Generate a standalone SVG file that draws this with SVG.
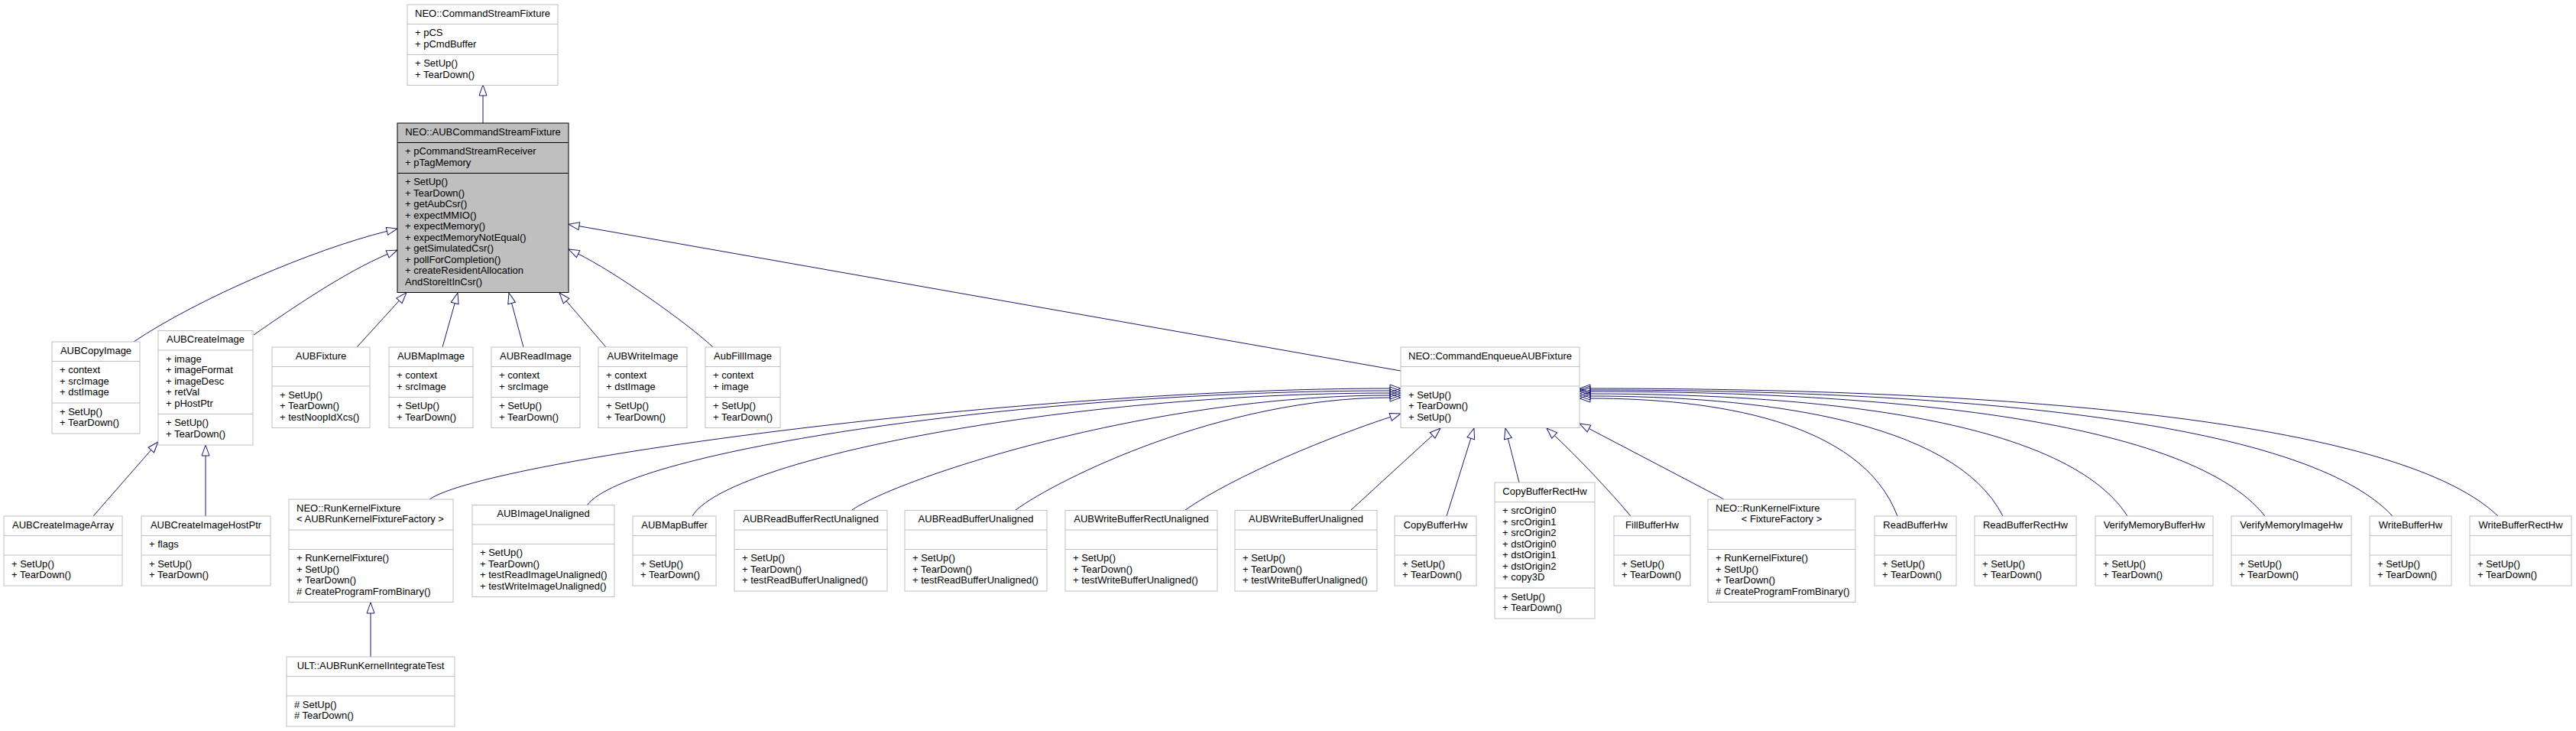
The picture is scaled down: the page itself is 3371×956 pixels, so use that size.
<svg xmlns="http://www.w3.org/2000/svg" width="3371" height="956" viewBox="0 0 3371 956">
<defs>
<style>
.n rect{fill:#ffffff;stroke:#bfbfbf;stroke-width:1}
.n line{stroke:#bfbfbf;stroke-width:1}
.h rect{fill:#bfbfbf;stroke:#000000;stroke-width:1}
.h line{stroke:#000000;stroke-width:1}
text{font-family:"Liberation Sans",Arial,Helvetica,sans-serif;font-size:13px;fill:#000000}
.c{text-anchor:middle}
#edges path{fill:none;stroke:#191970;stroke-width:1;marker-end:url(#ah)}
</style>
<marker id="ah" markerUnits="userSpaceOnUse" markerWidth="16" markerHeight="12" viewBox="0 0 16 12" refX="1" refY="6" orient="auto" overflow="visible">
<polygon points="1,1 15,6 1,11" fill="none" stroke="#191970" stroke-width="1"/>
</marker>
</defs>
<rect x="0" y="0" width="3371" height="956" fill="#ffffff"/>

<g id="edges">
<path d="M632,161 L632,125"/>
<path d="M175,447 C258,391 409.3,326.4 506.4,302.4"/>
<path d="M332,438 C381,404 451.8,355.6 507.1,332.4"/>
<path d="M467,454 L522.4,393.2"/>
<path d="M579,454 L595.2,396.5"/>
<path d="M685,454 L669.6,396.5"/>
<path d="M793,454 L741.1,393.6"/>
<path d="M933,454 C896.5,420 801.6,353.9 756.6,332.1"/>
<path d="M1833,485 L757.8,295.7"/>
<path d="M122,675 L197.7,588.5"/>
<path d="M269,675 L269,596"/>
<path d="M485,859 L485,802"/>
<path d="M562,653 C640,600 1350,508 1819,508"/>
<path d="M768,661 C820,590 1350,511 1819,511"/>
<path d="M906,675 C950,600 1400,514 1819,514"/>
<path d="M1115,667 C1172,627 1500,517 1819,517"/>
<path d="M1329,667 C1385,626 1600,520 1819,520"/>
<path d="M1551,667 C1617,621 1743.7,570.1 1819.7,545.3"/>
<path d="M1768,667 L1874.6,569.4"/>
<path d="M1893,675 L1924.8,573.3"/>
<path d="M1988,631 L1973.4,573.6"/>
<path d="M2134,675 C2108.4,644.2 2063.4,596.7 2034.2,569.5"/>
<path d="M2256,653 L2079.4,560.5"/>
<path d="M3269,675 C3129,540 2556,508 2081,508"/>
<path d="M3131,675 C3007,541 2501,510 2081,510"/>
<path d="M2964,675 C2860,543 2434,512 2081,512"/>
<path d="M2784,675 C2701,545 2362,515 2081,515"/>
<path d="M2621,675 C2557,548 2297,518 2081,518"/>
<path d="M2483,675 C2436,550 2242,521 2081,521"/>
</g>

<g id="CommandStreamFixture" class="n">
<rect x="533" y="6" width="197" height="105.5"/>
<line x1="533" y1="31.5" x2="730" y2="31.5"/><line x1="533" y1="71.5" x2="730" y2="71.5"/>
<text class="c" x="631.5" y="21.5">NEO::CommandStreamFixture</text>
<text x="543" y="47">+ pCS</text><text x="543" y="61.5">+ pCmdBuffer</text>
<text x="543" y="87">+ SetUp()</text><text x="543" y="101.5">+ TearDown()</text>
</g>

<g id="AUBCommandStreamFixture" class="h">
<rect x="520" y="161" width="224" height="221.5"/>
<line x1="520" y1="186.5" x2="744" y2="186.5"/><line x1="520" y1="226.5" x2="744" y2="226.5"/>
<text class="c" x="632" y="176.5">NEO::AUBCommandStreamFixture</text>
<text x="530" y="202">+ pCommandStreamReceiver</text><text x="530" y="216.5">+ pTagMemory</text>
<text x="530" y="242">+ SetUp()</text>
<text x="530" y="256.5">+ TearDown()</text>
<text x="530" y="271">+ getAubCsr()</text>
<text x="530" y="285.5">+ expectMMIO()</text>
<text x="530" y="300">+ expectMemory()</text>
<text x="530" y="314.5">+ expectMemoryNotEqual()</text>
<text x="530" y="329">+ getSimulatedCsr()</text>
<text x="530" y="343.5">+ pollForCompletion()</text>
<text x="530" y="358">+ createResidentAllocation</text>
<text x="530" y="372.5">AndStoreItInCsr()</text>
</g>

<g id="AUBCopyImage" class="n">
<rect x="68" y="447" width="115" height="120"/>
<line x1="68" y1="472.5" x2="183" y2="472.5"/><line x1="68" y1="527" x2="183" y2="527"/>
<text class="c" x="125.5" y="462.5">AUBCopyImage</text>
<text x="78" y="488">+ context</text><text x="78" y="502.5">+ srcImage</text><text x="78" y="517">+ dstImage</text>
<text x="78" y="542.5">+ SetUp()</text><text x="78" y="557">+ TearDown()</text>
</g>

<g id="AUBCreateImage" class="n">
<rect x="207" y="432.5" width="124" height="149.5"/>
<line x1="207" y1="458" x2="331" y2="458"/><line x1="207" y1="541.5" x2="331" y2="541.5"/>
<text class="c" x="269" y="448">AUBCreateImage</text>
<text x="217" y="473.5">+ image</text><text x="217" y="488">+ imageFormat</text><text x="217" y="502.5">+ imageDesc</text><text x="217" y="517">+ retVal</text><text x="217" y="531.5">+ pHostPtr</text>
<text x="217" y="557">+ SetUp()</text><text x="217" y="571.5">+ TearDown()</text>
</g>

<g id="AUBFixture" class="n">
<rect x="356" y="454" width="128" height="105.5"/>
<line x1="356" y1="479.5" x2="484" y2="479.5"/><line x1="356" y1="505" x2="484" y2="505"/>
<text class="c" x="420" y="469.5">AUBFixture</text>
<text x="366" y="520.5">+ SetUp()</text><text x="366" y="535">+ TearDown()</text><text x="366" y="549.5">+ testNoopIdXcs()</text>
</g>

<g id="AUBMapImage" class="n">
<rect x="509" y="454" width="110" height="105.5"/>
<line x1="509" y1="479.5" x2="619" y2="479.5"/><line x1="509" y1="519.5" x2="619" y2="519.5"/>
<text class="c" x="564" y="469.5">AUBMapImage</text>
<text x="519" y="495">+ context</text><text x="519" y="509.5">+ srcImage</text>
<text x="519" y="535">+ SetUp()</text><text x="519" y="549.5">+ TearDown()</text>
</g>

<g id="AUBReadImage" class="n">
<rect x="643" y="454" width="116" height="105.5"/>
<line x1="643" y1="479.5" x2="759" y2="479.5"/><line x1="643" y1="519.5" x2="759" y2="519.5"/>
<text class="c" x="701" y="469.5">AUBReadImage</text>
<text x="653" y="495">+ context</text><text x="653" y="509.5">+ srcImage</text>
<text x="653" y="535">+ SetUp()</text><text x="653" y="549.5">+ TearDown()</text>
</g>

<g id="AUBWriteImage" class="n">
<rect x="783" y="454" width="116" height="105.5"/>
<line x1="783" y1="479.5" x2="899" y2="479.5"/><line x1="783" y1="519.5" x2="899" y2="519.5"/>
<text class="c" x="841" y="469.5">AUBWriteImage</text>
<text x="793" y="495">+ context</text><text x="793" y="509.5">+ dstImage</text>
<text x="793" y="535">+ SetUp()</text><text x="793" y="549.5">+ TearDown()</text>
</g>

<g id="AubFillImage" class="n">
<rect x="923" y="454" width="98" height="105.5"/>
<line x1="923" y1="479.5" x2="1021" y2="479.5"/><line x1="923" y1="519.5" x2="1021" y2="519.5"/>
<text class="c" x="972" y="469.5">AubFillImage</text>
<text x="933" y="495">+ context</text><text x="933" y="509.5">+ image</text>
<text x="933" y="535">+ SetUp()</text><text x="933" y="549.5">+ TearDown()</text>
</g>

<g id="CommandEnqueueAUBFixture" class="n">
<rect x="1833" y="454" width="234" height="105.5"/>
<line x1="1833" y1="479.5" x2="2067" y2="479.5"/><line x1="1833" y1="505" x2="2067" y2="505"/>
<text class="c" x="1950" y="469.5">NEO::CommandEnqueueAUBFixture</text>
<text x="1843" y="520.5">+ SetUp()</text><text x="1843" y="535">+ TearDown()</text><text x="1843" y="549.5">+ SetUp()</text>
</g>

<g id="AUBCreateImageArray" class="n">
<rect x="5" y="675" width="155" height="91"/>
<line x1="5" y1="700.5" x2="160" y2="700.5"/><line x1="5" y1="726" x2="160" y2="726"/>
<text class="c" x="82.5" y="690.5">AUBCreateImageArray</text>
<text x="15" y="741.5">+ SetUp()</text><text x="15" y="756">+ TearDown()</text>
</g>

<g id="AUBCreateImageHostPtr" class="n">
<rect x="185" y="675" width="169" height="91"/>
<line x1="185" y1="700.5" x2="354" y2="700.5"/><line x1="185" y1="726" x2="354" y2="726"/>
<text class="c" x="269.5" y="690.5">AUBCreateImageHostPtr</text>
<text x="195" y="716">+ flags</text>
<text x="195" y="741.5">+ SetUp()</text><text x="195" y="756">+ TearDown()</text>
</g>

<g id="RunKernelFixtureAUB" class="n">
<rect x="378" y="653" width="215" height="134.5"/>
<line x1="378" y1="693" x2="593" y2="693"/><line x1="378" y1="718.5" x2="593" y2="718.5"/>
<text x="388" y="668.5">NEO::RunKernelFixture</text>
<text x="388" y="683">&lt; AUBRunKernelFixtureFactory &gt;</text>
<text x="388" y="734">+ RunKernelFixture()</text><text x="388" y="748.5">+ SetUp()</text><text x="388" y="763">+ TearDown()</text><text x="388" y="777.5"># CreateProgramFromBinary()</text>
</g>

<g id="AUBImageUnaligned" class="n">
<rect x="618" y="660.5" width="186" height="120"/>
<line x1="618" y1="686" x2="804" y2="686"/><line x1="618" y1="711.5" x2="804" y2="711.5"/>
<text class="c" x="711" y="676">AUBImageUnaligned</text>
<text x="628" y="727">+ SetUp()</text><text x="628" y="741.5">+ TearDown()</text><text x="628" y="756">+ testReadImageUnaligned()</text><text x="628" y="770.5">+ testWriteImageUnaligned()</text>
</g>

<g id="AUBMapBuffer" class="n">
<rect x="828" y="675" width="109" height="91"/>
<line x1="828" y1="700.5" x2="937" y2="700.5"/><line x1="828" y1="726" x2="937" y2="726"/>
<text class="c" x="882.5" y="690.5">AUBMapBuffer</text>
<text x="838" y="741.5">+ SetUp()</text><text x="838" y="756">+ TearDown()</text>
</g>

<g id="AUBReadBufferRectUnaligned" class="n">
<rect x="961" y="667.5" width="200" height="105.5"/>
<line x1="961" y1="693" x2="1161" y2="693"/><line x1="961" y1="718.5" x2="1161" y2="718.5"/>
<text class="c" x="1061" y="683">AUBReadBufferRectUnaligned</text>
<text x="971" y="734">+ SetUp()</text><text x="971" y="748.5">+ TearDown()</text><text x="971" y="763">+ testReadBufferUnaligned()</text>
</g>

<g id="AUBReadBufferUnaligned" class="n">
<rect x="1184" y="667.5" width="186" height="105.5"/>
<line x1="1184" y1="693" x2="1370" y2="693"/><line x1="1184" y1="718.5" x2="1370" y2="718.5"/>
<text class="c" x="1277" y="683">AUBReadBufferUnaligned</text>
<text x="1194" y="734">+ SetUp()</text><text x="1194" y="748.5">+ TearDown()</text><text x="1194" y="763">+ testReadBufferUnaligned()</text>
</g>

<g id="AUBWriteBufferRectUnaligned" class="n">
<rect x="1394" y="667.5" width="199" height="105.5"/>
<line x1="1394" y1="693" x2="1593" y2="693"/><line x1="1394" y1="718.5" x2="1593" y2="718.5"/>
<text class="c" x="1493.5" y="683">AUBWriteBufferRectUnaligned</text>
<text x="1404" y="734">+ SetUp()</text><text x="1404" y="748.5">+ TearDown()</text><text x="1404" y="763">+ testWriteBufferUnaligned()</text>
</g>

<g id="AUBWriteBufferUnaligned" class="n">
<rect x="1616" y="667.5" width="186" height="105.5"/>
<line x1="1616" y1="693" x2="1802" y2="693"/><line x1="1616" y1="718.5" x2="1802" y2="718.5"/>
<text class="c" x="1709" y="683">AUBWriteBufferUnaligned</text>
<text x="1626" y="734">+ SetUp()</text><text x="1626" y="748.5">+ TearDown()</text><text x="1626" y="763">+ testWriteBufferUnaligned()</text>
</g>

<g id="CopyBufferHw" class="n">
<rect x="1825" y="675" width="107" height="91"/>
<line x1="1825" y1="700.5" x2="1932" y2="700.5"/><line x1="1825" y1="726" x2="1932" y2="726"/>
<text class="c" x="1878.5" y="690.5">CopyBufferHw</text>
<text x="1835" y="741.5">+ SetUp()</text><text x="1835" y="756">+ TearDown()</text>
</g>

<g id="CopyBufferRectHw" class="n">
<rect x="1956" y="631" width="131" height="178"/>
<line x1="1956" y1="656.5" x2="2087" y2="656.5"/><line x1="1956" y1="769" x2="2087" y2="769"/>
<text class="c" x="2021.5" y="646.5">CopyBufferRectHw</text>
<text x="1966" y="672">+ srcOrigin0</text><text x="1966" y="686.5">+ srcOrigin1</text><text x="1966" y="701">+ srcOrigin2</text><text x="1966" y="715.5">+ dstOrigin0</text><text x="1966" y="730">+ dstOrigin1</text><text x="1966" y="744.5">+ dstOrigin2</text><text x="1966" y="759">+ copy3D</text>
<text x="1966" y="784.5">+ SetUp()</text><text x="1966" y="799">+ TearDown()</text>
</g>

<g id="FillBufferHw" class="n">
<rect x="2112" y="675" width="100" height="91"/>
<line x1="2112" y1="700.5" x2="2212" y2="700.5"/><line x1="2112" y1="726" x2="2212" y2="726"/>
<text class="c" x="2162" y="690.5">FillBufferHw</text>
<text x="2122" y="741.5">+ SetUp()</text><text x="2122" y="756">+ TearDown()</text>
</g>

<g id="RunKernelFixtureFF" class="n">
<rect x="2235" y="653" width="193" height="134.5"/>
<line x1="2235" y1="693" x2="2428" y2="693"/><line x1="2235" y1="718.5" x2="2428" y2="718.5"/>
<text x="2245" y="668.5">NEO::RunKernelFixture</text>
<text class="c" x="2331.5" y="683">&lt; FixtureFactory &gt;</text>
<text x="2245" y="734">+ RunKernelFixture()</text><text x="2245" y="748.5">+ SetUp()</text><text x="2245" y="763">+ TearDown()</text><text x="2245" y="777.5"># CreateProgramFromBinary()</text>
</g>

<g id="ReadBufferHw" class="n">
<rect x="2453" y="675" width="107" height="91"/>
<line x1="2453" y1="700.5" x2="2560" y2="700.5"/><line x1="2453" y1="726" x2="2560" y2="726"/>
<text class="c" x="2506.5" y="690.5">ReadBufferHw</text>
<text x="2463" y="741.5">+ SetUp()</text><text x="2463" y="756">+ TearDown()</text>
</g>

<g id="ReadBufferRectHw" class="n">
<rect x="2584" y="675" width="133" height="91"/>
<line x1="2584" y1="700.5" x2="2717" y2="700.5"/><line x1="2584" y1="726" x2="2717" y2="726"/>
<text class="c" x="2650.5" y="690.5">ReadBufferRectHw</text>
<text x="2594" y="741.5">+ SetUp()</text><text x="2594" y="756">+ TearDown()</text>
</g>

<g id="VerifyMemoryBufferHw" class="n">
<rect x="2742" y="675" width="154" height="91"/>
<line x1="2742" y1="700.5" x2="2896" y2="700.5"/><line x1="2742" y1="726" x2="2896" y2="726"/>
<text class="c" x="2819" y="690.5">VerifyMemoryBufferHw</text>
<text x="2752" y="741.5">+ SetUp()</text><text x="2752" y="756">+ TearDown()</text>
</g>

<g id="VerifyMemoryImageHw" class="n">
<rect x="2920" y="675" width="157" height="91"/>
<line x1="2920" y1="700.5" x2="3077" y2="700.5"/><line x1="2920" y1="726" x2="3077" y2="726"/>
<text class="c" x="2998.5" y="690.5">VerifyMemoryImageHw</text>
<text x="2930" y="741.5">+ SetUp()</text><text x="2930" y="756">+ TearDown()</text>
</g>

<g id="WriteBufferHw" class="n">
<rect x="3101" y="675" width="107" height="91"/>
<line x1="3101" y1="700.5" x2="3208" y2="700.5"/><line x1="3101" y1="726" x2="3208" y2="726"/>
<text class="c" x="3154.5" y="690.5">WriteBufferHw</text>
<text x="3111" y="741.5">+ SetUp()</text><text x="3111" y="756">+ TearDown()</text>
</g>

<g id="WriteBufferRectHw" class="n">
<rect x="3232" y="675" width="133" height="91"/>
<line x1="3232" y1="700.5" x2="3365" y2="700.5"/><line x1="3232" y1="726" x2="3365" y2="726"/>
<text class="c" x="3298.5" y="690.5">WriteBufferRectHw</text>
<text x="3242" y="741.5">+ SetUp()</text><text x="3242" y="756">+ TearDown()</text>
</g>

<g id="AUBRunKernelIntegrateTest" class="n">
<rect x="375" y="859" width="220" height="91"/>
<line x1="375" y1="884.5" x2="595" y2="884.5"/><line x1="375" y1="910" x2="595" y2="910"/>
<text class="c" x="485" y="874.5">ULT::AUBRunKernelIntegrateTest</text>
<text x="385" y="925.5"># SetUp()</text><text x="385" y="940"># TearDown()</text>
</g>
</svg>
